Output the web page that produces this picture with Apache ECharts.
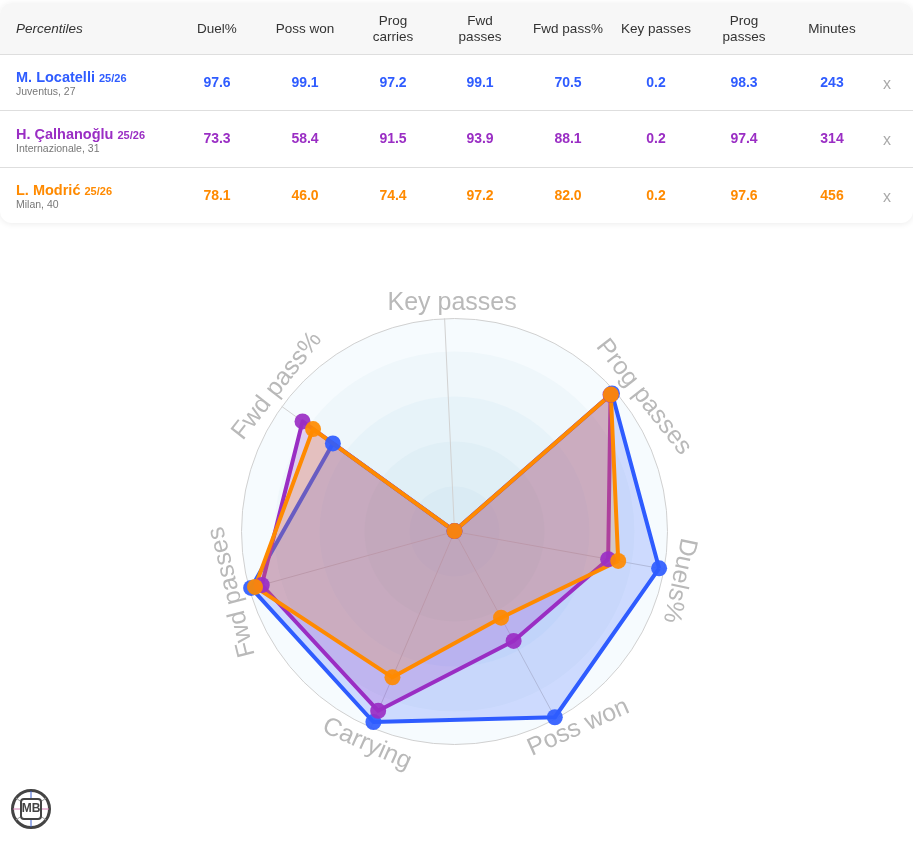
<!DOCTYPE html>
<html>
<head>
<meta charset="utf-8">
<title>Percentiles</title>
<script src="https://cdn.jsdelivr.net/npm/echarts@6/dist/echarts.min.js"></script>
<style>
html, body { margin: 0; padding: 0; background: #fff; font-family: "Liberation Sans", Arial, sans-serif; }
#page { position: relative; width: 913px; height: 849px; overflow: hidden; }
#radar_container { position: absolute; left: 0; top: 0; width: 913px; height: 849px; }
#card { position: absolute; left: 0; top: 3px; width: 913px; height: 220px; background: #fff; border-radius: 12px;
    box-shadow: 0 1px 6px rgba(0,0,0,0.08); overflow: hidden; }
.row { position: absolute; left: 0; width: 913px; border-bottom: 1px solid #dedede; box-sizing: border-box; }
.head { top: 0; height: 52px; background: #f7f7f7; color: #333; font-size: 13.5px; line-height: 16px; }
.cell { position: absolute; width: 88px; text-align: center; top: 0; height: 100%; display: flex; align-items: center; justify-content: center; }
.first { position: absolute; left: 16px; top: 0; height: 100%; display: flex; flex-direction: column; justify-content: center; }
.row .first { margin-top: 1px; }
.head.row .first { margin-top: 0; }
.name { font-size: 14.5px; font-weight: bold; line-height: 15px; white-space: nowrap; }
.name small { font-size: 11px; }
.team { font-size: 10.5px; color: #777; line-height: 11px; }
.val { font-size: 14px; font-weight: bold; margin-top: -1px; }
.x { color: #aaa; font-size: 16px; margin-top: 1px; }
</style>
</head>
<body>
<div id="page">
    <div id="radar_container"></div>
    <div id="card"></div>
</div>
<script>
var columns = ['Duel%', 'Poss won', 'Prog<br>carries', 'Fwd<br>passes', 'Fwd pass%', 'Key passes', 'Prog<br>passes', 'Minutes'];
var columnCenters = [217, 305, 393, 480, 568, 656, 744, 832];

var playerNames = ['M. Locatelli', 'H. Çalhanoğlu', 'L. Modrić'];
var teams = ['Juventus, 27', 'Internazionale, 31', 'Milan, 40'];
var season = '25/26';
var colors = ['#2f5cff', '#9a2ec4', '#ff8a00'];

// same order as the table columns
var locatelli = [97.6, 99.1, 97.2, 99.1, 70.5, 0.2, 98.3];
var calhanoglu = [73.3, 58.4, 91.5, 93.9, 88.1, 0.2, 97.4];
var modric = [78.1, 46.0, 74.4, 97.2, 82.0, 0.2, 97.6];
var minutes = [243, 314, 456];
var playerValues = [locatelli, calhanoglu, modric];

// radar goes counter clockwise from Duels%, so the columns are picked in this order
var axisNames = ['Duels%', 'Prog passes', 'Key passes', 'Fwd pass%', 'Fwd passes', 'Carrying', 'Poss won'];
var axisColumns = [0, 6, 5, 4, 3, 2, 1];

// axis name placement: angle on the circle, radius, text rotation
var labelAngles = [347.7, 35.4, 90.6, 140.6, 195.2, 247.6, 302.3];
var labelRadii = [230, 232, 228, 229.5, 230.6, 230, 232];
var labelRotations = [-102, -52, 0, 52, 104, -24, 24];

var ringRadii = [213, 180, 135, 90, 45];
var ringColors = ['#f6fbfe', '#eff7fb', '#e7f3f9', '#e0eff6', '#daebf4'];

/* table */
var card = document.getElementById('card');
var html = '<div class="row head"><div class="first"><i>Percentiles</i></div>';
columns.forEach(function (c, i) {
    html += '<div class="cell" style="left:' + (columnCenters[i] - 44) + 'px">' + c + '</div>';
});
html += '</div>';
var rowTops = [52, 108, 165];
var rowHeights = [56, 57, 55];
playerNames.forEach(function (name, p) {
    html += '<div class="row" style="top:' + rowTops[p] + 'px;height:' + rowHeights[p] + 'px;color:' + colors[p] + (p == 2 ? ';border:0' : '') + '">';
    html += '<div class="first"><div class="name">' + name + ' <small>' + season + '</small></div><div class="team">' + teams[p] + '</div></div>';
    playerValues[p].concat([minutes[p]]).forEach(function (v, i) {
        var txt = i == 7 ? v : v.toFixed(1);
        html += '<div class="cell val" style="left:' + (columnCenters[i] - 44) + 'px">' + txt + '</div>';
    });
    html += '<div class="cell x" style="left:843px">x</div></div>';
});
card.innerHTML = html;

/* radar */
var dom = document.getElementById('radar_container');
var myChart = echarts.init(dom);

var cx = 454.5, cy = 531.5, radius = 213;

var labels = axisNames.map(function (name, i) {
    var rad = labelAngles[i] * Math.PI / 180;
    return {
        type: 'text',
        x: cx + labelRadii[i] * Math.cos(rad),
        y: cy - labelRadii[i] * Math.sin(rad),
        rotation: labelRotations[i] * Math.PI / 180,
        style: {
            text: name,
            fill: '#b9b9b9',
            font: '25px "Liberation Sans", Arial, sans-serif',
            textAlign: 'center',
            textVerticalAlign: 'middle'
        },
        z: 10
    };
});

// rings are not evenly spaced, so they sit behind the radar as plain circles
var rings = ringRadii.map(function (r, i) {
    return {
        type: 'circle',
        shape: { cx: cx, cy: cy, r: r },
        style: { fill: ringColors[i] },
        z: -10 + i
    };
});

var logo = {
    type: 'group',
    x: 31,
    y: 809,
    children: [
        { type: 'circle', shape: { r: 18.5 }, style: { fill: '#fff', stroke: '#444', lineWidth: 3 } },
        { type: 'line', shape: { x1: 0, y1: -18, x2: 0, y2: 18 }, style: { stroke: '#3a5fd0', lineWidth: 1 } },
        { type: 'line', shape: { x1: -18, y1: 0, x2: 18, y2: 0 }, style: { stroke: '#d07ab0', lineWidth: 1 } },
        { type: 'line', shape: { x1: -15, y1: -11, x2: 15, y2: 11 }, style: { stroke: '#999', lineWidth: 1 } },
        { type: 'line', shape: { x1: 15, y1: -11, x2: -15, y2: 11 }, style: { stroke: '#999', lineWidth: 1 } },
        { type: 'rect', shape: { x: -10, y: -10, width: 20, height: 20, r: 3 }, style: { fill: '#fff', stroke: '#444', lineWidth: 2 } },
        { type: 'text', style: { text: 'MB', x: 0, y: 0, fill: '#444', font: 'bold 12px "Liberation Sans", Arial, sans-serif', textAlign: 'center', textVerticalAlign: 'middle' } }
    ]
};

var seriesData = playerNames.map(function (name, p) {
    return {
        name: name,
        value: axisColumns.map(function (c) { return playerValues[p][c]; }),
        symbol: 'circle',
        symbolSize: 16,
        itemStyle: { color: colors[p], opacity: 0.92 },
        lineStyle: { color: colors[p], width: 4 },
        areaStyle: { color: colors[p], opacity: 0.2 }
    };
});

var option = {
    animation: false,
    radar: {
        center: [cx, cy],
        radius: radius,
        startAngle: -10.2,
        shape: 'circle',
        splitNumber: 5,
        indicator: axisNames.map(function (name) {
            return { name: name, min: 0, max: 100 };
        }),
        axisName: { show: false },
        axisLine: { lineStyle: { color: '#d2d2d2', width: 1 } },
        axisTick: { show: false },
        axisLabel: { show: false },
        splitLine: { lineStyle: { color: ['transparent', 'transparent', 'transparent', 'transparent', 'transparent', '#d0d0d0'], width: 1 } },
        splitArea: { show: false }
    },
    series: playerNames.map(function (name, p) {
        return {
            type: 'radar',
            name: name,
            data: [seriesData[p]]
        };
    }),
    graphic: { elements: rings.concat(labels).concat([logo]) }
};
if (option && typeof option === "object") {
    myChart.setOption(option, true);
}
</script>
</body>
</html>
